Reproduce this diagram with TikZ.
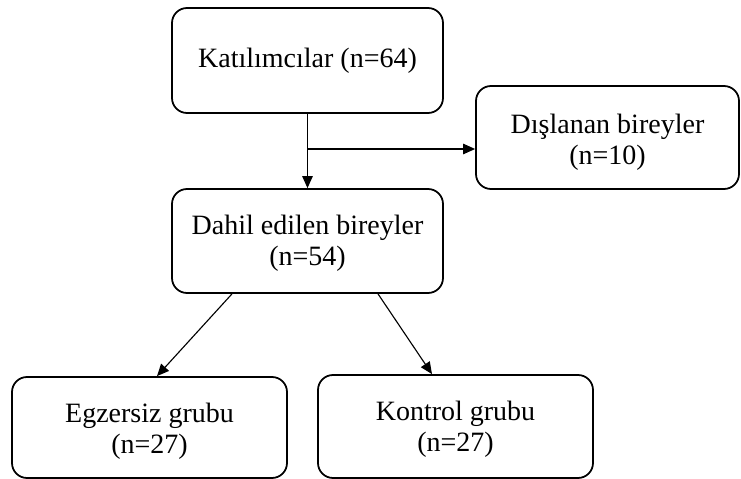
\documentclass[tikz,border=0pt]{standalone}
\usepackage{fontspec}
\setmainfont{Liberation Serif}
\usepackage{tikz}
\usetikzlibrary{positioning,arrows.meta,calc}
\tikzset{
    flowbox/.style={
        draw=black, fill=white, line width=0.7pt, rounded corners=6pt,
        minimum width=108.4pt, minimum height=42pt,
        font=\fontsize{11.2}{12.4}\selectfont, align=center, inner sep=0pt
    },
    groupbox/.style={
        flowbox, minimum width=110pt, minimum height=41pt
    },
    arrow/.style={-{Triangle[length=4.8pt,width=4.2pt]}, line width=0.45pt, color=black},
}
\begin{document}
\begin{tikzpicture}[x=0.4pt, y=-0.4pt]
    \useasboundingbox (0,0) rectangle (741,479);
    \node[flowbox] (kat) at (307.5,60.5) {Katılımcılar (n=64)};
    \node[flowbox, minimum width=105.2pt, minimum height=41.2pt] (disl) at (607.5,137.5) {};
    \node[font=\fontsize{11.2}{12.4}\selectfont, align=center] (disltxt) at (607.5,142.5) {Dışlanan bireyler\\(n=10)};
    \node[flowbox, minimum height=41.6pt] (dahil) at (307.5,241) {};
    \node[font=\fontsize{11.2}{12.4}\selectfont, align=center] (dahiltxt) at (307.5,243) {Dahil edilen bireyler\\(n=54)};
    \node[groupbox, minimum height=40.4pt] (egz) at (149.5,427.5) {};
    \node[font=\fontsize{11.2}{12.4}\selectfont, align=center] (egztxt) at (149.5,431) {Egzersiz grubu\\(n=27)};
    \node[groupbox, minimum height=41.2pt] (kont) at (455.5,426.5) {};
    \node[font=\fontsize{11.2}{12.4}\selectfont, align=center] (konttxt) at (455.5,429.5) {Kontrol grubu\\(n=27)};
    \coordinate (br) at (307.5,149);
    \draw[arrow] (kat) -- (dahil);
    \draw[arrow] (br) -- (br -| disl.west);
    \draw[arrow] ($(dahil.south)+(-75.5,0)$) -- ($(egz.north)+(7.5,0)$);
    \draw[arrow] ($(dahil.south)+(70.5,0)$) -- ($(kont.north)+(-23.5,0)$);
\end{tikzpicture}
\end{document}
